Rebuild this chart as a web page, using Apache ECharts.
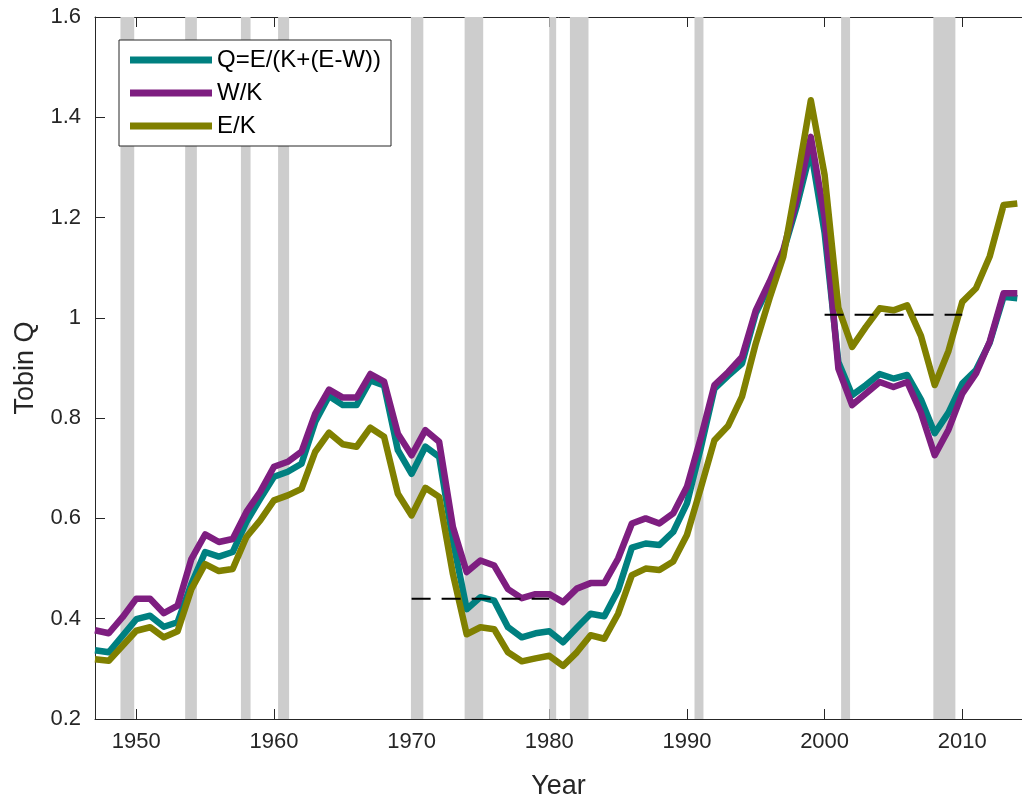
<!DOCTYPE html>
<html>
<head>
<meta charset="utf-8">
<script src="https://cdn.jsdelivr.net/npm/echarts@6/dist/echarts.min.js"></script>
<style>
html,body{margin:0;padding:0;background:#fff;}
#chart{width:1022px;height:795px;}
</style>
</head>
<body>
<div id="chart"></div>
<script>
const years = [1947,1948,1949,1950,1951,1952,1953,1954,1955,1956,1957,1958,1959,1960,1961,1962,1963,1964,1965,1966,1967,1968,1969,1970,1971,1972,1973,1974,1975,1976,1977,1978,1979,1980,1981,1982,1983,1984,1985,1986,1987,1988,1989,1990,1991,1992,1993,1994,1995,1996,1997,1998,1999,2000,2001,2002,2003,2004,2005,2006,2007,2008,2009,2010,2011,2012,2013,2014];

const qValues = [0.337,0.333,0.366,0.399,0.406,0.384,0.393,0.469,0.533,0.524,0.533,0.593,0.639,0.683,0.693,0.709,0.793,0.844,0.826,0.826,0.875,0.865,0.736,0.689,0.743,0.723,0.556,0.419,0.443,0.436,0.383,0.363,0.371,0.375,0.353,0.382,0.410,0.405,0.457,0.542,0.550,0.547,0.573,0.630,0.740,0.859,0.885,0.909,1.009,1.065,1.132,1.225,1.335,1.170,0.912,0.846,0.866,0.888,0.879,0.886,0.837,0.770,0.811,0.869,0.896,0.951,1.042,1.039];

const wkValues = [0.377,0.371,0.403,0.440,0.440,0.411,0.426,0.519,0.568,0.553,0.559,0.613,0.653,0.703,0.713,0.733,0.809,0.857,0.841,0.841,0.888,0.873,0.769,0.726,0.776,0.753,0.583,0.493,0.516,0.506,0.459,0.441,0.449,0.449,0.433,0.460,0.471,0.471,0.520,0.590,0.600,0.590,0.610,0.663,0.760,0.866,0.892,0.922,1.015,1.072,1.135,1.238,1.361,1.200,0.899,0.826,0.849,0.872,0.862,0.872,0.811,0.726,0.777,0.849,0.889,0.953,1.049,1.049];

const ekValues = [0.319,0.316,0.346,0.376,0.383,0.363,0.375,0.459,0.509,0.495,0.499,0.563,0.596,0.636,0.646,0.659,0.733,0.771,0.748,0.743,0.781,0.763,0.649,0.606,0.661,0.643,0.489,0.369,0.383,0.379,0.333,0.315,0.321,0.326,0.306,0.333,0.367,0.360,0.410,0.487,0.500,0.497,0.514,0.567,0.660,0.756,0.785,0.843,0.949,1.039,1.122,1.275,1.434,1.285,1.020,0.942,0.982,1.019,1.015,1.025,0.964,0.866,0.934,1.032,1.059,1.123,1.225,1.228];

const recessionStart = [1948.85,1953.55,1957.6,1960.3,1969.95,1973.85,1980.0,1981.5,1990.55,2001.2,2007.9];
const recessionEnd   = [1949.85,1954.4,1958.3,1961.1,1970.85,1975.2,1980.5,1982.85,1991.2,2001.85,2009.5];

const avgStart = [1970, 2000];
const avgEnd   = [1980, 2010];
const avgValue = [0.44, 1.006];

const xTicks = [1950,1960,1970,1980,1990,2000,2010];
const seriesNames = ['Q=E/(K+(E-W))','W/K','E/K'];
const seriesColors = ['#008080','#7E1E80','#808000'];

const pair = (vals) => years.map((y, i) => [y, vals[i]]);
const axisColor = '#262626';
const font = 'Liberation Sans, Arial, Helvetica, sans-serif';
const xMin = 1947, xMax = 2014.34;

const chart = echarts.init(document.getElementById('chart'), null, {renderer: 'canvas'});

const lineSeries = [qValues, wkValues, ekValues].map((vals, i) => ({
  name: seriesNames[i],
  type: 'line',
  data: pair(vals),
  showSymbol: false,
  symbol: 'none',
  z: 3,
  lineStyle: {color: seriesColors[i], width: 6.5, join: 'round', cap: 'butt'},
  itemStyle: {color: seriesColors[i]},
  emphasis: {disabled: true}
}));

const dashSeries = avgValue.map((v, i) => ({
  name: 'avg' + i,
  type: 'line',
  data: [[avgStart[i], v], [avgEnd[i], v]],
  showSymbol: false,
  symbol: 'none',
  z: 4,
  lineStyle: {color: '#000', width: 2, type: [19, 11]},
  emphasis: {disabled: true}
}));

const bandSeries = {
  name: 'recessions',
  type: 'line',
  data: [],
  z: 1,
  markArea: {
    silent: true,
    itemStyle: {color: '#cdcdcd'},
    data: recessionStart.map((s, i) => [{xAxis: s}, {xAxis: recessionEnd[i]}])
  }
};

const option = {
  animation: false,
  backgroundColor: '#fff',
  textStyle: {fontFamily: font},
  grid: {left: 95, top: 17, right: 0, bottom: 76, containLabel: false, outerBoundsMode: 'none'},
  legend: {
    data: seriesNames,
    orient: 'vertical',
    left: 119,
    top: 40,
    icon: 'rect',
    itemWidth: 82,
    itemHeight: 7,
    itemGap: 9,
    padding: [8, 10, 8, 11],
    borderColor: axisColor,
    borderWidth: 1,
    backgroundColor: '#fff',
    textStyle: {fontSize: 24, color: '#000', fontFamily: font},
    selectedMode: false
  },
  xAxis: [{
    type: 'value', min: xMin, max: xMax, position: 'bottom',
    axisLine: {lineStyle: {color: axisColor, width: 1}},
    axisTick: {inside: true, length: 10, customValues: xTicks, lineStyle: {color: axisColor}},
    axisLabel: {customValues: xTicks, fontSize: 22, color: axisColor, margin: 12, fontFamily: font,
      formatter: (v) => String(Math.round(v))},
    splitLine: {show: false},
    name: 'Year', nameLocation: 'middle', nameGap: 54,
    nameTextStyle: {fontSize: 27, color: axisColor, fontFamily: font}
  }, {
    type: 'value', min: xMin, max: xMax, position: 'top',
    axisLine: {lineStyle: {color: axisColor, width: 1}},
    axisTick: {inside: true, length: 10, customValues: xTicks, lineStyle: {color: axisColor}},
    axisLabel: {show: false},
    splitLine: {show: false}
  }],
  yAxis: [{
    type: 'value', min: 0.2, max: 1.6, interval: 0.2, position: 'left',
    axisLine: {show: true, lineStyle: {color: axisColor, width: 1}},
    axisTick: {show: true, inside: true, length: 10, lineStyle: {color: axisColor}},
    axisLabel: {fontSize: 22, color: axisColor, margin: 14, fontFamily: font,
      formatter: (v) => String(Number(v.toFixed(1)))},
    splitLine: {show: false},
    name: 'Tobin Q', nameLocation: 'middle', nameGap: 48,
    nameTextStyle: {fontSize: 27, color: axisColor, fontFamily: font}
  }],
  series: [bandSeries].concat(lineSeries, dashSeries)
};

chart.setOption(option);
</script>
</body>
</html>
